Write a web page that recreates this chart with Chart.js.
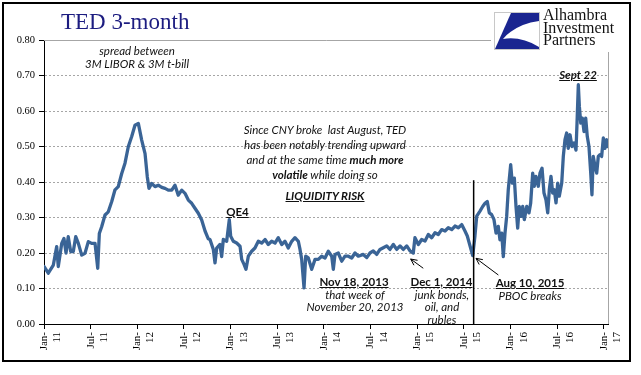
<!DOCTYPE html>
<html>
<head>
<meta charset="utf-8">
<script src="https://cdn.jsdelivr.net/npm/chart.js@4"></script>
<style>
  html, body { margin: 0; padding: 0; background: #fff; }
  #wrap { position: relative; width: 641px; height: 375px; overflow: hidden; }
  #c { position: absolute; left: 0; top: 0; }
  .frame { position: absolute; left: 2px; top: 2px; width: 625px; height: 356px; border: 2px solid #000; }
  .t { position: absolute; white-space: nowrap; transform: translate(-50%, -50%); font-family: Lato, "Open Sans", sans-serif; font-size: 11.5px; line-height: 14px; color: #111; }
  .i { font-style: italic; }
  .b { font-weight: bold; }
  .u { text-decoration: underline; }
  #title { position: absolute; left: 61px; top: 10px; font-family: "Liberation Serif", serif; font-size: 23px; line-height: 23px; color: #1c1c80; white-space: nowrap; }
  #logo { position: absolute; left: 491px; top: 6px; width: 130px; height: 46px; background: #fff; }
  #logotext { position: absolute; left: 543px; top: 9px; font-family: "Liberation Serif", serif; font-size: 16px; line-height: 12.6px; color: #111; }
</style>
</head>
<body>
<div id="wrap">
  <canvas id="c" width="641" height="375"></canvas>
  <div class="frame"></div>
  <div id="title">TED 3-month</div>
  <div id="logo">
    <svg style="position:absolute;left:3px;top:6px" width="46" height="38" viewBox="0 0 46 38">
      <rect x="0.5" y="0.5" width="45" height="37" fill="#fff" stroke="#c8c8c8" stroke-width="1"/>
      <path d="M17 1 L45 1 L45 37 L1 37 Z" fill="#1a2590"/>
      <path d="M45 9 Q22 12 9 27 Q27 24 45 35 Z" fill="#fff"/>
    </svg>
  </div>
  <div id="logotext">Alhambra<br>Investment<br>Partners</div>

  <div class="t i" style="left:137px;top:51px">spread between</div>
  <div class="t i" style="left:137px;top:63.5px">3M LIBOR &amp; 3M t-bill</div>

  <div class="t i" style="left:325px;top:130px">Since CNY broke&nbsp; last August, TED</div>
  <div class="t i" style="left:325px;top:145px">has been notably&nbsp;trending upward</div>
  <div class="t i" style="left:325px;top:160px">and at the same time <b>much more</b></div>
  <div class="t i" style="left:325px;top:174.5px"><b>volatile</b> while doing so</div>
  <div class="t i b u" style="left:325px;top:196px">LIQUIDITY RISK</div>

  <div class="t b u" style="left:237.5px;top:212px">QE4</div>

  <div class="t b u" style="left:354px;top:282px">Nov 18, 2013</div>
  <div class="t i" style="left:355px;top:294.5px">that week of</div>
  <div class="t i" style="left:355px;top:307px">November 20, 2013</div>

  <div class="t b u" style="left:441.5px;top:282px">Dec 1, 2014</div>
  <div class="t i" style="left:442px;top:294.5px">junk bonds,</div>
  <div class="t i" style="left:442px;top:307px">oil, and</div>
  <div class="t i" style="left:442px;top:319.5px">rubles</div>

  <div class="t b u" style="left:530px;top:283px">Aug 10, 2015</div>
  <div class="t i" style="left:530px;top:295.5px">PBOC breaks</div>

  <div class="t i b u" style="left:578px;top:75px">Sept 22</div>
</div>
<script>
// ---- data (decimal year, TED spread in %) ----
const dates = [
  2011.000,2011.046,2011.100,2011.136,2011.153,2011.190,2011.214,2011.236,2011.260,2011.286,
  2011.314,2011.340,2011.368,2011.404,2011.439,2011.475,2011.511,2011.547,2011.576,2011.593,
  2011.618,2011.654,2011.689,2011.726,2011.761,2011.796,2011.833,2011.868,2011.904,2011.940,
  2011.975,2012.011,2012.047,2012.083,2012.107,2012.125,2012.154,2012.190,2012.225,2012.262,
  2012.297,2012.332,2012.369,2012.404,2012.439,2012.476,2012.511,2012.547,2012.583,2012.618,
  2012.654,2012.690,2012.726,2012.761,2012.779,2012.815,2012.833,2012.851,2012.886,2012.904,
  2012.922,2012.958,2012.986,2013.001,2013.029,2013.065,2013.101,2013.119,2013.144,2013.165,
  2013.190,2013.226,2013.261,2013.297,2013.333,2013.369,2013.404,2013.440,2013.476,2013.511,
  2013.548,2013.583,2013.618,2013.655,2013.690,2013.726,2013.744,2013.762,2013.787,2013.805,
  2013.833,2013.869,2013.905,2013.940,2013.976,2014.012,2014.047,2014.084,2014.101,2014.119,
  2014.154,2014.191,2014.226,2014.262,2014.298,2014.333,2014.369,2014.422,2014.459,2014.494,
  2014.529,2014.566,2014.601,2014.637,2014.673,2014.708,2014.744,2014.780,2014.816,2014.851,
  2014.888,2014.923,2014.958,2014.976,2015.012,2015.048,2015.084,2015.119,2015.155,2015.191,
  2015.226,2015.262,2015.298,2015.333,2015.370,2015.405,2015.441,2015.477,2015.512,2015.537,
  2015.566,2015.595,2015.619,2015.638,2015.673,2015.702,2015.727,2015.751,2015.773,2015.798,
  2015.823,2015.845,2015.869,2015.887,2015.906,2015.923,2015.941,2015.959,2015.976,2016.002,
  2016.019,2016.041,2016.059,2016.077,2016.094,2016.113,2016.131,2016.148,2016.174,2016.198,
  2016.216,2016.238,2016.255,2016.273,2016.298,2016.316,2016.338,2016.359,2016.380,2016.399,
  2016.416,2016.434,2016.452,2016.469,2016.488,2016.506,2016.523,2016.549,2016.566,2016.584,
  2016.602,2016.619,2016.638,2016.659,2016.681,2016.702,2016.713,2016.727,2016.738,2016.753,
  2016.770,2016.788,2016.806,2016.823,2016.841,2016.860,2016.873,2016.887,2016.906,2016.924,
  2016.941,2016.959,2016.977,2016.995,2017.013,2017.031,2017.041
];
const ted = [
  0.162,0.143,0.166,0.218,0.162,0.227,0.241,0.200,0.246,0.204,
  0.204,0.246,0.227,0.194,0.199,0.232,0.227,0.227,0.157,0.255,
  0.274,0.307,0.316,0.345,0.378,0.387,0.424,0.453,0.500,0.528,
  0.560,0.565,0.518,0.480,0.415,0.382,0.396,0.387,0.391,0.385,
  0.382,0.377,0.377,0.391,0.363,0.377,0.368,0.349,0.340,0.326,
  0.312,0.293,0.262,0.240,0.238,0.210,0.172,0.214,0.224,0.190,
  0.238,0.233,0.294,0.247,0.233,0.228,0.219,0.182,0.168,0.154,
  0.191,0.205,0.214,0.233,0.228,0.238,0.224,0.233,0.228,0.243,
  0.224,0.233,0.214,0.233,0.243,0.233,0.210,0.182,0.102,0.191,
  0.186,0.154,0.182,0.182,0.191,0.186,0.205,0.191,0.154,0.196,
  0.200,0.177,0.191,0.191,0.186,0.200,0.191,0.196,0.187,0.200,
  0.206,0.196,0.210,0.215,0.220,0.210,0.224,0.210,0.220,0.210,
  0.220,0.206,0.200,0.243,0.224,0.238,0.234,0.252,0.243,0.257,
  0.252,0.266,0.262,0.271,0.266,0.276,0.271,0.280,0.262,0.248,
  0.220,0.193,0.248,0.304,0.318,0.331,0.340,0.345,0.313,0.308,
  0.294,0.256,0.275,0.237,0.256,0.190,0.256,0.303,0.378,0.449,
  0.397,0.411,0.331,0.270,0.331,0.303,0.331,0.294,0.331,0.313,
  0.340,0.425,0.388,0.416,0.388,0.425,0.439,0.369,0.350,0.313,
  0.378,0.416,0.369,0.378,0.341,0.397,0.360,0.397,0.472,0.519,
  0.538,0.495,0.533,0.500,0.510,0.490,0.566,0.674,0.613,0.566,
  0.580,0.542,0.580,0.528,0.500,0.425,0.364,0.472,0.444,0.425,
  0.472,0.477,0.472,0.524,0.495,0.519,0.500
];
const tickValues = [2011,2011.5,2012,2012.5,2013,2013.5,2014,2014.5,2015,2015.5,2016,2016.5,2017];
const tickLabels = ["Jan-11","Jul-11","Jan-12","Jul-12","Jan-13","Jul-13","Jan-14","Jul-14","Jan-15","Jul-15","Jan-16","Jul-16","Jan-17"];
const yMin = 0, yMax = 0.8, yStep = 0.1;
const xMin = 2011, xMax = 2017.045;
// annotation anchors in data units
const eventLine = { x: 2015.605, top: 0.405 };
const arrows = [
  { from: [2015.065, 0.157], to: [2014.93, 0.183] },
  { from: [2015.87, 0.138], to: [2015.63, 0.185] }
];

const overlay = {
  id: 'overlay',
  beforeDatasetsDraw(chart) {
    const { ctx, chartArea: a } = chart;
    ctx.save();
    ctx.strokeStyle = '#a6a6a6';
    ctx.lineWidth = 1;
    ctx.beginPath();
    ctx.moveTo(a.left, Math.round(a.top) + 0.5);
    ctx.lineTo(Math.round(a.right) + 0.5, Math.round(a.top) + 0.5);
    ctx.lineTo(Math.round(a.right) + 0.5, a.bottom);
    ctx.stroke();
    ctx.restore();
  },
  afterDatasetsDraw(chart) {
    const { ctx, scales: { x, y } } = chart;
    ctx.save();
    ctx.strokeStyle = '#000';
    ctx.lineWidth = 1.5;
    const lx = x.getPixelForValue(eventLine.x);
    ctx.beginPath();
    ctx.moveTo(lx, y.getPixelForValue(eventLine.top));
    ctx.lineTo(lx, y.getPixelForValue(0));
    ctx.stroke();
    ctx.lineWidth = 1;
    arrows.forEach(ar => {
      const x1 = x.getPixelForValue(ar.from[0]), y1 = y.getPixelForValue(ar.from[1]);
      const x2 = x.getPixelForValue(ar.to[0]), y2 = y.getPixelForValue(ar.to[1]);
      const ang = Math.atan2(y2 - y1, x2 - x1);
      const h = 7;
      ctx.beginPath();
      ctx.moveTo(x1, y1); ctx.lineTo(x2, y2);
      ctx.moveTo(x2 - h * Math.cos(ang - 0.45), y2 - h * Math.sin(ang - 0.45));
      ctx.lineTo(x2, y2);
      ctx.lineTo(x2 - h * Math.cos(ang + 0.45), y2 - h * Math.sin(ang + 0.45));
      ctx.stroke();
    });
    ctx.restore();
  }
};

new Chart(document.getElementById('c'), {
  type: 'line',
  data: {
    datasets: [{
      label: 'TED 3-month',
      data: dates.map((d, i) => ({ x: d, y: ted[i] })),
      borderColor: '#3a6496',
      borderWidth: 3.3,
      pointRadius: 0,
      tension: 0,
      borderJoinStyle: 'round',
      borderCapStyle: 'round'
    }]
  },
  options: {
    responsive: false,
    animation: false,
    layout: { padding: { left: 0, right: 33, top: 40, bottom: 0 } },
    plugins: { legend: { display: false }, tooltip: { enabled: false }, title: { display: false } },
    scales: {
      x: {
        type: 'linear',
        min: xMin,
        max: xMax,
        afterBuildTicks: s => { s.ticks = tickValues.map(v => ({ value: v })); },
        afterFit: s => { s.height = 51; },
        ticks: {
          autoSkip: false,
          maxRotation: 90,
          minRotation: 90,
          padding: 3,
          color: '#000',
          font: { family: 'Liberation Serif', size: 11 },
          callback: (v, i) => { const p = tickLabels[i].split('-'); return [p[0] + '-', p[1]]; }
        },
        grid: { drawOnChartArea: false, tickLength: 5, tickColor: '#000' },
        border: { color: '#000', width: 1 }
      },
      y: {
        min: yMin,
        max: yMax,
        afterFit: s => { s.width = 44; },
        ticks: {
          stepSize: yStep,
          padding: 4,
          color: '#000',
          font: { family: 'Liberation Serif', size: 10.5 },
          callback: v => v.toFixed(2)
        },
        grid: {
          color: c => (c.tick && (Math.abs(c.tick.value) < 1e-6 || Math.abs(c.tick.value - yMax) < 1e-6)) ? 'rgba(0,0,0,0)' : '#a6a6a6',
          lineWidth: 1,
          tickLength: 5,
          tickColor: '#000'
        },
        border: { color: '#000', width: 1, dash: [2, 2] }
      }
    }
  },
  plugins: [overlay]
});
</script>
</body>
</html>
